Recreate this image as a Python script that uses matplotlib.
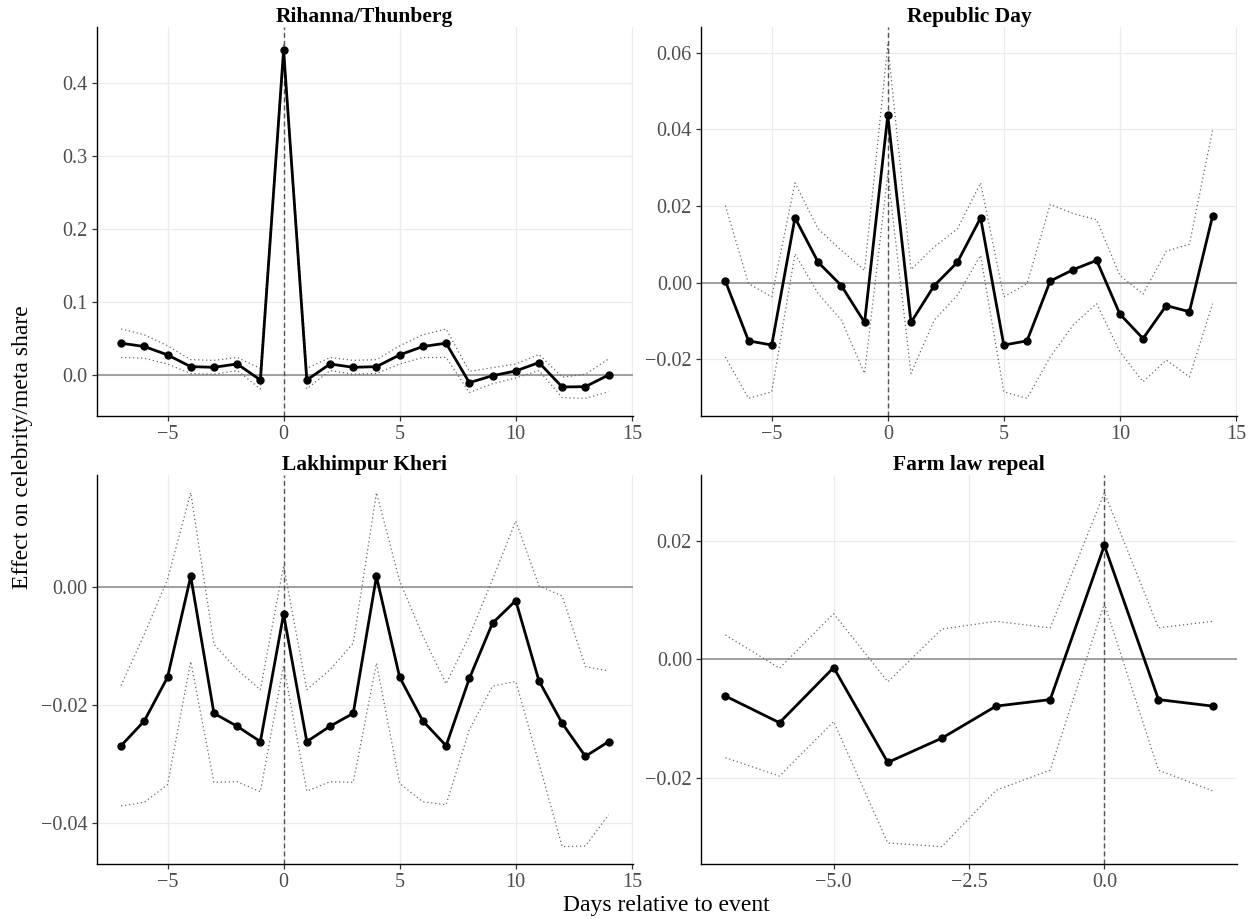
import matplotlib
matplotlib.use("Agg")
import matplotlib.pyplot as plt
from matplotlib.ticker import FuncFormatter

plt.rcParams["font.family"] = ["Liberation Serif", "DejaVu Serif"]

# days relative to event
days_long = list(range(-7, 15))
days_short = list(range(-7, 3))

# Rihanna/Thunberg
rihanna_est = [0.0435, 0.039, 0.0275, 0.0114, 0.0105, 0.0151, -0.0069, 0.445, -0.0069, 0.015, 0.0105,
               0.0114, 0.0275, 0.039, 0.0435, -0.0105, -0.001, 0.0055, 0.017, -0.0165, -0.016, 0.0]
rihanna_hi = [0.063, 0.055, 0.040, 0.021, 0.020, 0.024, 0.009, 0.452, 0.009, 0.024, 0.020,
              0.021, 0.040, 0.055, 0.063, 0.005, 0.010, 0.015, 0.028, -0.003, 0.001, 0.022]
rihanna_lo = [0.024, 0.023, 0.015, 0.002, 0.001, 0.006, -0.019, 0.438, -0.019, 0.006, 0.001,
              0.002, 0.015, 0.024, 0.024, -0.024, -0.012, -0.004, 0.006, -0.031, -0.032, -0.023]

# Republic Day
repday_est = [0.0004, -0.0152, -0.0163, 0.0169, 0.0053, -0.0008, -0.0104, 0.0436, -0.0104, -0.0008, 0.0053,
              0.0169, -0.0163, -0.0152, 0.0004, 0.0034, 0.0058, -0.0082, -0.0146, -0.006, -0.0076, 0.0174]
repday_hi = [0.0201, -0.0003, -0.0037, 0.026, 0.014, 0.0084, 0.0032, 0.062, 0.0034, 0.0093, 0.014,
             0.026, -0.0037, -0.0003, 0.0204, 0.018, 0.0164, 0.0019, -0.003, 0.0082, 0.010, 0.0398]
repday_lo = [-0.0194, -0.0302, -0.0285, 0.0075, -0.0029, -0.0098, -0.0237, 0.0284, -0.0237, -0.0098, -0.0033,
             0.0071, -0.0285, -0.0302, -0.0194, -0.011, -0.0055, -0.018, -0.0259, -0.0202, -0.0246, -0.0055]

# Lakhimpur Kheri
lakhimpur_est = [-0.0269, -0.0227, -0.0153, 0.0018, -0.0214, -0.0236, -0.0262, -0.0046, -0.0262, -0.0236, -0.0214,
                 0.0018, -0.0153, -0.0227, -0.0269, -0.0155, -0.0061, -0.0023, -0.0159, -0.0231, -0.0287, -0.0262]
lakhimpur_hi = [-0.0167, -0.008, 0.0013, 0.016, -0.0097, -0.014, -0.0174, 0.0036, -0.0174, -0.014, -0.0095,
                0.016, 0.001, -0.0083, -0.0164, -0.0083, 0.0013, 0.0112, 0.0002, -0.0015, -0.0135, -0.0142]
lakhimpur_lo = [-0.0371, -0.0365, -0.0335, -0.0126, -0.0331, -0.033, -0.0347, -0.0133, -0.0346, -0.033, -0.0331,
                -0.0129, -0.0333, -0.0364, -0.0369, -0.0242, -0.0168, -0.016, -0.0299, -0.044, -0.0439, -0.0386]

# Farm law repeal
farmlaw_est = [-0.0062, -0.0107, -0.0014, -0.0174, -0.0133, -0.0079, -0.0068, 0.0192, -0.0068, -0.0079]
farmlaw_hi = [0.0041, -0.0015, 0.0077, -0.0038, 0.0051, 0.0064, 0.0053, 0.0281, 0.0053, 0.0064]
farmlaw_lo = [-0.0166, -0.0197, -0.0105, -0.031, -0.0316, -0.0221, -0.0187, 0.0094, -0.0187, -0.0222]

titles = ["Rihanna/Thunberg", "Republic Day", "Lakhimpur Kheri", "Farm law repeal"]


def fmt(decimals):
    return FuncFormatter(lambda v, pos: f"{v:.{decimals}f}".replace("-", "\u2212"))


fig = plt.figure(figsize=(12.51, 9.19), dpi=100)

W, H = 1251, 919
# (left, top, right, bottom) in pixels
boxes = [(96.7, 27.3, 633, 416), (701, 27.3, 1237, 416),
         (96.7, 475, 633, 864.3), (701, 475, 1237, 864.3)]

panels = [
    (days_long, rihanna_est, rihanna_lo, rihanna_hi, [0.0, 0.1, 0.2, 0.3, 0.4], 1, [-5, 0, 5, 10, 15], 0),
    (days_long, repday_est, repday_lo, repday_hi, [-0.02, 0.0, 0.02, 0.04, 0.06], 2, [-5, 0, 5, 10, 15], 0),
    (days_long, lakhimpur_est, lakhimpur_lo, lakhimpur_hi, [-0.04, -0.02, 0.0], 2, [-5, 0, 5, 10, 15], 0),
    (days_short, farmlaw_est, farmlaw_lo, farmlaw_hi, [-0.02, 0.0, 0.02], 2, [-5.0, -2.5, 0.0], 1),
]

for i, (x, est, lo, hi, yt, ydec, xt, xdec) in enumerate(panels):
    l, t, r, b = boxes[i]
    ax = fig.add_axes([l / W, 1 - b / H, (r - l) / W, (b - t) / H])

    ax.plot(x, hi, color="#666666", lw=0.9, linestyle=(0, (1, 2.2)))
    ax.plot(x, lo, color="#666666", lw=0.9, linestyle=(0, (1, 2.2)))
    ax.plot(x, est, color="black", lw=2, marker="o", markersize=5, zorder=4)
    ax.margins(x=0.05, y=0.05)

    ax.axhline(0, color="#999999", lw=1.3, zorder=1)
    ax.axvline(0, color="#555555", lw=1.0, linestyle=(0, (3.6, 2.2)), zorder=2)

    ax.set_xticks(xt)
    ax.set_yticks(yt)
    ax.xaxis.set_major_formatter(fmt(xdec))
    ax.yaxis.set_major_formatter(fmt(ydec))
    ax.grid(True, color="#EBEBEB", lw=0.9, zorder=0)
    ax.set_axisbelow(True)

    for side in ["top", "right"]:
        ax.spines[side].set_visible(False)
    for side in ["left", "bottom"]:
        ax.spines[side].set_color("black")
        ax.spines[side].set_linewidth(1.0)
    ax.tick_params(length=3.5, width=0.9, color="#333333", labelcolor="#4D4D4D",
                   labelsize=14.5, pad=3)
    ax.set_title(titles[i], fontsize=15.5, fontweight="bold", pad=2)

fig.text(0.0176, 0.514, "Effect on celebrity/meta share", rotation=90,
         ha="center", va="center", fontsize=17)
fig.text(0.533, 0.0152, "Days relative to event", ha="center", va="center", fontsize=17)

fig.savefig("out.png", dpi=100)
